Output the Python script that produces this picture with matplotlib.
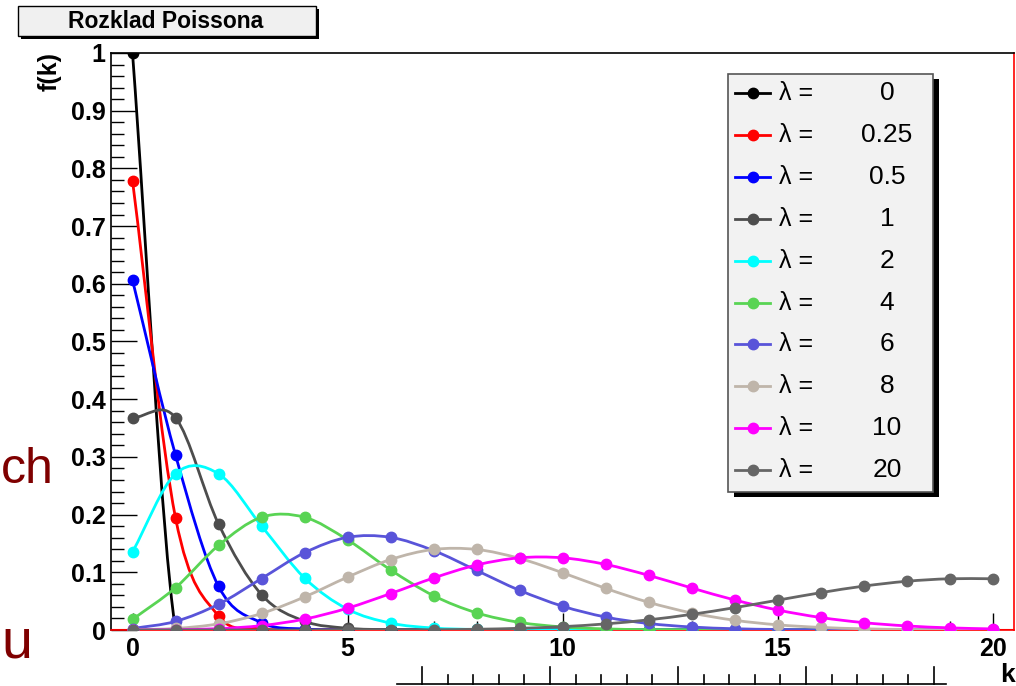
import numpy as np
import matplotlib
matplotlib.use("Agg")
import matplotlib.pyplot as plt
from matplotlib.path import Path
from matplotlib.patches import PathPatch, Rectangle
from matplotlib.lines import Line2D
from matplotlib.ticker import MultipleLocator, FormatStrFormatter

plt.rcParams["font.family"] = ["Liberation Sans", "DejaVu Sans"]

# Poisson probabilities, k = 0..20
k = list(range(21))
lambdas = ["0", "0.25", "0.5", "1", "2", "4", "6", "8", "10", "20"]
p_0 = [1.0] + [0.0] * 20
p_025 = [0.7788, 0.1947, 0.0243, 0.0020, 0.0001] + [0.0] * 16
p_05 = [0.6065, 0.3033, 0.0758, 0.0126, 0.0016, 0.0002] + [0.0] * 15
p_1 = [0.3679, 0.3679, 0.1839, 0.0613, 0.0153, 0.0031, 0.0005, 0.0001] + [0.0] * 13
p_2 = [0.1353, 0.2707, 0.2707, 0.1804, 0.0902, 0.0361, 0.0120, 0.0034,
       0.0009, 0.0002] + [0.0] * 11
p_4 = [0.0183, 0.0733, 0.1465, 0.1954, 0.1954, 0.1563, 0.1042, 0.0595,
       0.0298, 0.0132, 0.0053, 0.0019, 0.0006, 0.0002, 0.0001] + [0.0] * 6
p_6 = [0.0025, 0.0149, 0.0446, 0.0892, 0.1339, 0.1606, 0.1606, 0.1377,
       0.1033, 0.0688, 0.0413, 0.0225, 0.0113, 0.0052, 0.0022, 0.0009,
       0.0003, 0.0001, 0.0, 0.0, 0.0]
p_8 = [0.0003, 0.0027, 0.0107, 0.0286, 0.0573, 0.0916, 0.1221, 0.1396,
       0.1396, 0.1241, 0.0993, 0.0722, 0.0481, 0.0296, 0.0169, 0.0090,
       0.0045, 0.0021, 0.0009, 0.0004, 0.0002]
p_10 = [0.0000, 0.0005, 0.0023, 0.0076, 0.0189, 0.0378, 0.0631, 0.0901,
        0.1126, 0.1251, 0.1251, 0.1137, 0.0948, 0.0729, 0.0521, 0.0347,
        0.0217, 0.0128, 0.0071, 0.0037, 0.0019]
p_20 = [0.0, 0.0, 0.0, 0.0, 0.0, 0.0001, 0.0002, 0.0005, 0.0013, 0.0029,
        0.0058, 0.0106, 0.0176, 0.0271, 0.0387, 0.0516, 0.0646, 0.0760,
        0.0844, 0.0888, 0.0888]
series = [p_0, p_025, p_05, p_1, p_2, p_4, p_6, p_8, p_10, p_20]
colors = ["#000000", "#ff0000", "#0000ff", "#4d4d4d", "#00ffff",
          "#59d454", "#5954d9", "#bfb5aa", "#ff00ff", "#666666"]

W, H = 1016, 686


def fx(x):
    return x / W


def fy(y):
    return 1 - y / H


def smooth_path(xs, ys):
    # catmull-rom through the points, handed to matplotlib as bezier segments
    pts = np.column_stack([xs, ys]).astype(float)
    n = len(pts)
    tang = np.zeros_like(pts)
    tang[1:-1] = (pts[2:] - pts[:-2]) / 2
    tang[0] = pts[1] - pts[0]
    tang[-1] = pts[-1] - pts[-2]
    verts = [pts[0]]
    codes = [Path.MOVETO]
    for i in range(n - 1):
        verts += [pts[i] + tang[i] / 3, pts[i + 1] - tang[i + 1] / 3, pts[i + 1]]
        codes += [Path.CURVE4] * 3
    return Path(verts, codes)


fig = plt.figure(figsize=(W / 100, H / 100), dpi=100)
fig.patch.set_facecolor("white")

# bits of the slide behind the plot
narrow = ["Liberation Sans Narrow", "Liberation Sans", "DejaVu Sans"]
fig.text(fx(1), fy(483), "ch", color="#7f0000", fontsize=36, family=narrow,
         ha="left", va="baseline")
fig.text(fx(1), fy(657), "u", color="#7f0000", fontsize=40, family=narrow,
         ha="left", va="baseline")
fig.add_artist(Line2D([fx(397), fx(946)], [fy(684), fy(684)], color="black", lw=1.2))
for i in range(21):
    xt = 422 + i * 25.6
    top = 667 if i % 5 == 0 else 675
    fig.add_artist(Line2D([fx(xt), fx(xt)], [fy(684), fy(top)], color="black", lw=1.2))

ax = fig.add_axes([fx(111), fy(630), (1014 - 111) / W, (630 - 53) / H])
ax.set_xlim(-0.5, 20.5)
ax.set_ylim(0, 1)

ax.axhline(0, color="red", lw=1.5, zorder=1)
for i, (vals, col) in enumerate(zip(series, colors)):
    ax.add_patch(PathPatch(smooth_path(k, vals), facecolor="none", edgecolor=col,
                           lw=2, zorder=2 + 2 * i))
    ax.plot(k, vals, "o", color=col, ms=7.5, zorder=3 + 2 * i)

for side in ["left", "top"]:
    ax.spines[side].set_color("black")
ax.spines["right"].set_color("red")
ax.spines["bottom"].set_color("red")
for sp in ax.spines.values():
    sp.set_linewidth(1.2)

ax.xaxis.set_major_locator(MultipleLocator(5))
ax.xaxis.set_minor_locator(MultipleLocator(1))
ax.yaxis.set_major_locator(MultipleLocator(0.1))
ax.yaxis.set_minor_locator(MultipleLocator(0.02))
ax.yaxis.set_major_formatter(FormatStrFormatter("%g"))
ax.tick_params(axis="x", which="major", direction="in", length=12.5, width=1, pad=5)
ax.tick_params(axis="x", which="minor", direction="in", length=6.3, width=1)
ax.tick_params(axis="y", which="major", direction="in", length=18.7, width=1, pad=4)
ax.tick_params(axis="y", which="minor", direction="in", length=9.4, width=1)
for lab in ax.get_xticklabels() + ax.get_yticklabels():
    lab.set_fontsize(18)
    lab.set_fontweight("bold")

fig.text(fx(50), fy(52), "f(k)", rotation=90, fontsize=18, fontweight="bold",
         ha="center", va="top")
fig.text(fx(1015), fy(682), "k", fontsize=19, fontweight="bold", ha="right", va="baseline")

# title box
fig.add_artist(Rectangle((fx(21), fy(39)), (316 - 18) / W, (36 - 6) / H,
                         transform=fig.transFigure, facecolor="black", edgecolor="none"))
fig.add_artist(Rectangle((fx(18), fy(36)), (316 - 18) / W, (36 - 6) / H,
                         transform=fig.transFigure, facecolor="#f0f0f0",
                         edgecolor="black", lw=1))
fig.text(fx(166), fy(21), "Rozklad Poissona", fontsize=16.5, fontweight="bold",
         ha="center", va="center")

# legend
fig.add_artist(Rectangle((fx(734), fy(497)), (933 - 728) / W, (492 - 74) / H,
                         transform=fig.transFigure, facecolor="black", edgecolor="none"))
fig.add_artist(Rectangle((fx(728), fy(492)), (933 - 728) / W, (492 - 74) / H,
                         transform=fig.transFigure, facecolor="#f2f2f2",
                         edgecolor="#555555", lw=1.2))
for i, (lam, col) in enumerate(zip(lambdas, colors)):
    yr = 93 + i * 41.9
    fig.add_artist(Line2D([fx(735), fx(770)], [fy(yr), fy(yr)], color=col, lw=2))
    fig.add_artist(Line2D([fx(753)], [fy(yr)], marker="o", color=col, ms=7.5))
    fig.text(fx(779), fy(yr), "λ =", fontsize=18, ha="left", va="center")
    fig.text(fx(887), fy(yr), lam, fontsize=19, ha="center", va="center")

fig.savefig("out.png", dpi=100)
